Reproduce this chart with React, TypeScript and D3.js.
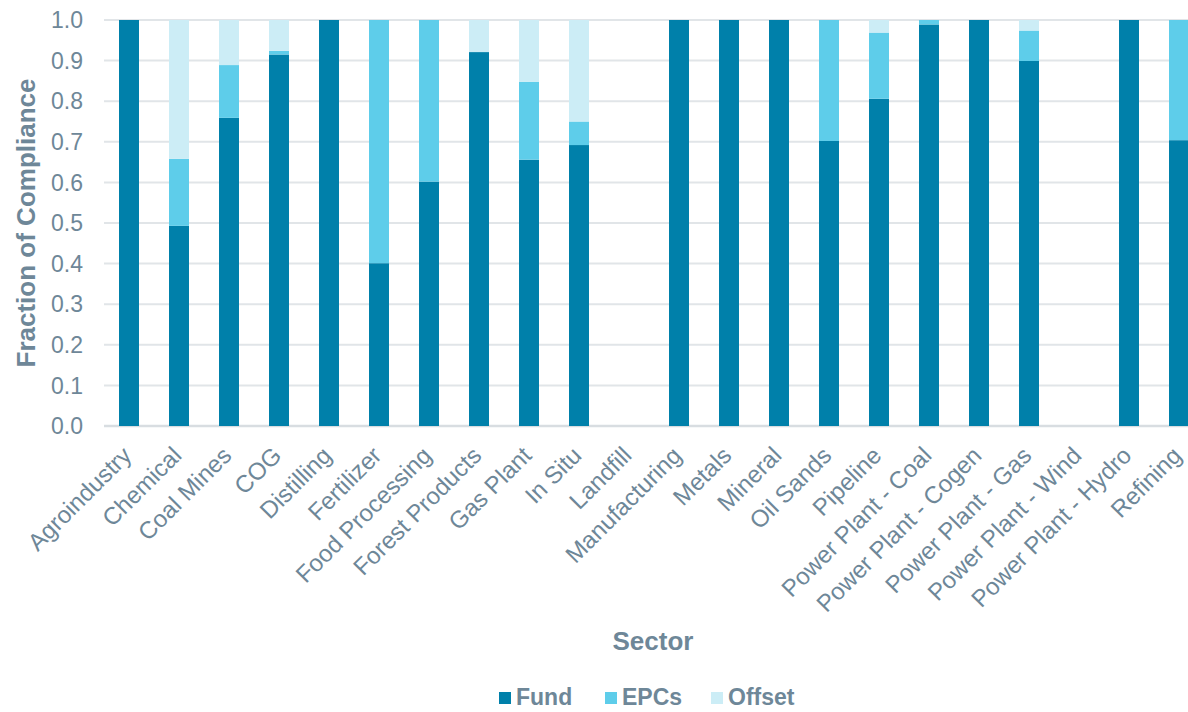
import React from "react";
import * as d3 from "d3";

const sectors = [
  "Agroindustry", "Chemical", "Coal Mines", "COG", "Distilling", "Fertilizer",
  "Food Processing", "Forest Products", "Gas Plant", "In Situ", "Landfill",
  "Manufacturing", "Metals", "Mineral", "Oil Sands", "Pipeline",
  "Power Plant - Coal", "Power Plant - Cogen", "Power Plant - Gas",
  "Power Plant - Wind", "Power Plant - Hydro", "Refining",
];
const fund = [1.0, 0.493, 0.759, 0.915, 1.0, 0.401, 0.602, 0.921, 0.656, 0.692, 0, 1.0, 1.0, 1.0, 0.702, 0.806, 0.989, 1.0, 0.899, 0, 1.0, 0.704];
const epcs = [0, 0.165, 0.130, 0.009, 0, 0.599, 0.398, 0, 0.192, 0.058, 0, 0, 0, 0, 0.298, 0.163, 0.011, 0, 0.075, 0, 0, 0.296];
const offset = [0, 0.342, 0.111, 0.076, 0, 0, 0, 0.079, 0.152, 0.25, 0, 0, 0, 0, 0, 0.031, 0, 0, 0.026, 0, 0, 0];
const seriesNames = ["Fund", "EPCs", "Offset"];
const seriesColors = ["#0080aa", "#5ecdea", "#ccedf6"];
const yTicks = [0, 0.1, 0.2, 0.3, 0.4, 0.5, 0.6, 0.7, 0.8, 0.9, 1.0];

const W = 1188;
const H = 712;
const TEXT = "#6e8798";
const FONT = "'Liberation Sans', Arial, sans-serif";

export default function App() {
  const x = d3.scaleBand<string>().domain(sectors).range([104, 1204]).paddingInner(0.6).paddingOuter(0.3);
  const y = d3.scaleLinear().domain([0, 1]).range([426, 20]);

  const rows = sectors.map((s, i) => ({ sector: s, Fund: fund[i], EPCs: epcs[i], Offset: offset[i] }));
  const stacked = d3.stack<any>().keys(seriesNames)(rows);

  return (
    <svg width={W} height={H} style={{ position: "absolute", left: 0, top: 0, background: "#fff" }} fontFamily={FONT}>
      <rect width={W} height={H} fill="#fff" />
      {yTicks.map((t) => (
        <line key={t} x1={104} x2={W} y1={y(t)} y2={y(t)} stroke={t === 0 ? "#d8dde1" : "#e1e5e8"} strokeWidth={t === 0 ? 2.5 : 2} />
      ))}
      {stacked.map((layer, li) => (
        <g key={layer.key} fill={seriesColors[li]}>
          {layer.map((d, i) => {
            const h = y(d[0]) - y(d[1]);
            if (h <= 0) return null;
            return <rect key={i} x={x(sectors[i])} y={y(d[1])} width={x.bandwidth()} height={h} />;
          })}
        </g>
      ))}
      {yTicks.map((t) => (
        <text key={t} x={83} y={y(t)} dy="0.36em" textAnchor="end" fontSize={23} fill={TEXT}>
          {d3.format(".1f")(t)}
        </text>
      ))}
      {sectors.map((s) => {
        const cx = (x(s) as number) + x.bandwidth() / 2;
        return (
          <text key={s} transform={`translate(${cx + 4},${457}) rotate(-45)`} textAnchor="end" fontSize={24} fill={TEXT}>
            {s}
          </text>
        );
      })}
      <text transform="translate(35,223) rotate(-90)" textAnchor="middle" fontSize={26} fontWeight="bold" fill={TEXT}>
        Fraction of Compliance
      </text>
      <text x={653} y={650} textAnchor="middle" fontSize={26} fontWeight="bold" fill={TEXT}>
        Sector
      </text>
      {seriesNames.map((n, i) => (
        <g key={n} transform={`translate(${499 + i * 106},0)`}>
          <rect x={0} y={692} width={12} height={12} fill={seriesColors[i]} />
          <text x={17} y={705} fontSize={23} fontWeight="bold" fill={TEXT}>{n}</text>
        </g>
      ))}
    </svg>
  );
}
